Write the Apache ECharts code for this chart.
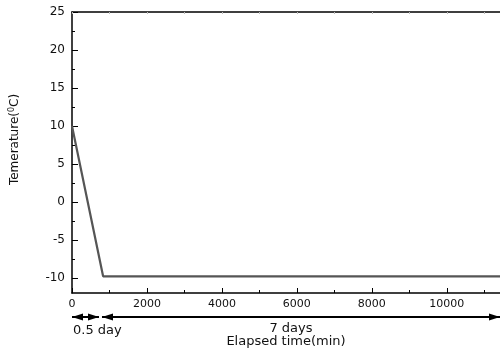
<!DOCTYPE html>
<html>
<head>
<meta charset="utf-8">
<script src="https://cdn.jsdelivr.net/npm/echarts@6/dist/echarts.min.js"></script>
<style>html,body{margin:0;padding:0;background:#fff}#c{width:500px;height:353px}</style>
</head>
<body>
<div id="c"></div>
<script>
// Data
var timeMin = [0, 830, 11420];
var tempC = [10, -9.8, -9.8];
var xMajorTicks = [0, 2000, 4000, 6000, 8000, 10000];
var xMinorTicks = [1000, 3000, 5000, 7000, 9000, 11000];
var yMajorTicks = [-10, -5, 0, 5, 10, 15, 20, 25];
var yMinorTicks = [-7.5, -2.5, 2.5, 7.5, 12.5, 17.5, 22.5];
var periodBounds = [0, 720, 11420];
var periodLabels = ['0.5 day', '7 days'];

var FONT = 'DejaVu Sans, Liberation Sans, Arial, sans-serif';
var X_MIN = 0, X_MAX = 11420, Y_MIN = -12, Y_MAX = 25;

var chart = echarts.init(document.getElementById('c'));
var pts = timeMin.map(function (t, i) { return [t, tempC[i]]; });

var baseX = { type: 'value', min: X_MIN, max: X_MAX, gridIndex: 0 };
var baseY = { type: 'value', min: Y_MIN, max: Y_MAX, gridIndex: 0 };
function plain(v) { return String(v); }

chart.setOption({
  animation: false,
  grid: { left: 72, right: 0, top: 12, bottom: 59, containLabel: false },
  xAxis: [
    Object.assign({}, baseX, {
      position: 'bottom',
      name: 'Elapsed time(min)', nameLocation: 'middle', nameGap: 42,
      nameTextStyle: { fontFamily: FONT, fontSize: 13, color: '#111' },
      axisLine: { show: true, onZero: false, lineStyle: { color: '#000', width: 1.5 } },
      axisTick: { show: true, inside: true, length: 5, customValues: xMajorTicks, lineStyle: { color: '#000' } },
      axisLabel: { show: true, margin: 6, customValues: xMajorTicks, formatter: plain, fontFamily: FONT, fontSize: 11, color: '#111' },
      splitLine: { show: false }
    }),
    Object.assign({}, baseX, {
      position: 'bottom',
      axisLine: { show: false, onZero: false },
      axisTick: { show: true, inside: true, length: 3, customValues: xMinorTicks, lineStyle: { color: '#000' } },
      axisLabel: { show: false },
      splitLine: { show: false }
    }),
    Object.assign({}, baseX, {
      position: 'top',
      axisLine: { show: true, onZero: false, lineStyle: { color: '#000', width: 1.5 } },
      axisTick: { show: true, inside: true, length: 2, customValues: xMinorTicks.concat(xMajorTicks), lineStyle: { color: '#bbb' } },
      axisLabel: { show: false },
      splitLine: { show: false }
    })
  ],
  yAxis: [
    Object.assign({}, baseY, {
      position: 'left',
      name: '{a|Temerature(}{s|0}{a|C)}', nameLocation: 'middle', nameGap: 50,
      nameTextStyle: {
        padding: [0, 0, 0, 26],
        rich: {
          a: { fontFamily: FONT, fontSize: 12, color: '#111' },
          s: { fontFamily: FONT, fontSize: 8, color: '#111', verticalAlign: 'top', padding: [0, 0, 6, 0] }
        }
      },
      axisLine: { show: true, onZero: false, lineStyle: { color: '#000', width: 1.5 } },
      axisTick: { show: true, inside: true, length: 6, customValues: yMajorTicks, lineStyle: { color: '#000' } },
      axisLabel: { show: true, margin: 7, customValues: yMajorTicks, formatter: plain, fontFamily: FONT, fontSize: 12, color: '#111' },
      splitLine: { show: false }
    }),
    Object.assign({}, baseY, {
      position: 'left',
      axisLine: { show: false, onZero: false },
      axisTick: { show: true, inside: true, length: 3, customValues: yMinorTicks, lineStyle: { color: '#000' } },
      axisLabel: { show: false },
      splitLine: { show: false }
    })
  ],
  series: [{
    type: 'line', xAxisIndex: 0, yAxisIndex: 0,
    data: pts, symbol: 'none',
    lineStyle: { color: '#555', width: 2.2 }
  }]
});

// Period arrows below the x axis
var arrowY = 317;
function px(v) { return chart.convertToPixel({ xAxisIndex: 0 }, v); }
var els = [];
function head(x, dir) {
  var L = 11, H = 3.5;
  return {
    type: 'polygon',
    shape: { points: [[x, arrowY], [x - dir * L, arrowY - H], [x - dir * L, arrowY + H]] },
    style: { fill: '#000' }
  };
}
for (var i = 0; i < periodLabels.length; i++) {
  var a = px(periodBounds[i]) + (i === 0 ? 0 : 3);
  var b = px(periodBounds[i + 1]);
  if (i === periodLabels.length - 1) b = 500;
  els.push({ type: 'line', shape: { x1: a, y1: arrowY, x2: b, y2: arrowY }, style: { stroke: '#000', lineWidth: 2 } });
  els.push(head(a, -1));
  els.push(head(b, 1));
}
els.push({ type: 'text', style: { text: periodLabels[0], x: px(periodBounds[0]) + 1, y: 331, fontFamily: FONT, fontSize: 13, fill: '#111', align: 'left', verticalAlign: 'middle' } });
els.push({ type: 'text', style: { text: periodLabels[1], x: 291, y: 329, fontFamily: FONT, fontSize: 13, fill: '#111', align: 'center', verticalAlign: 'middle' } });
chart.setOption({ graphic: { elements: els } });
</script>
</body>
</html>
